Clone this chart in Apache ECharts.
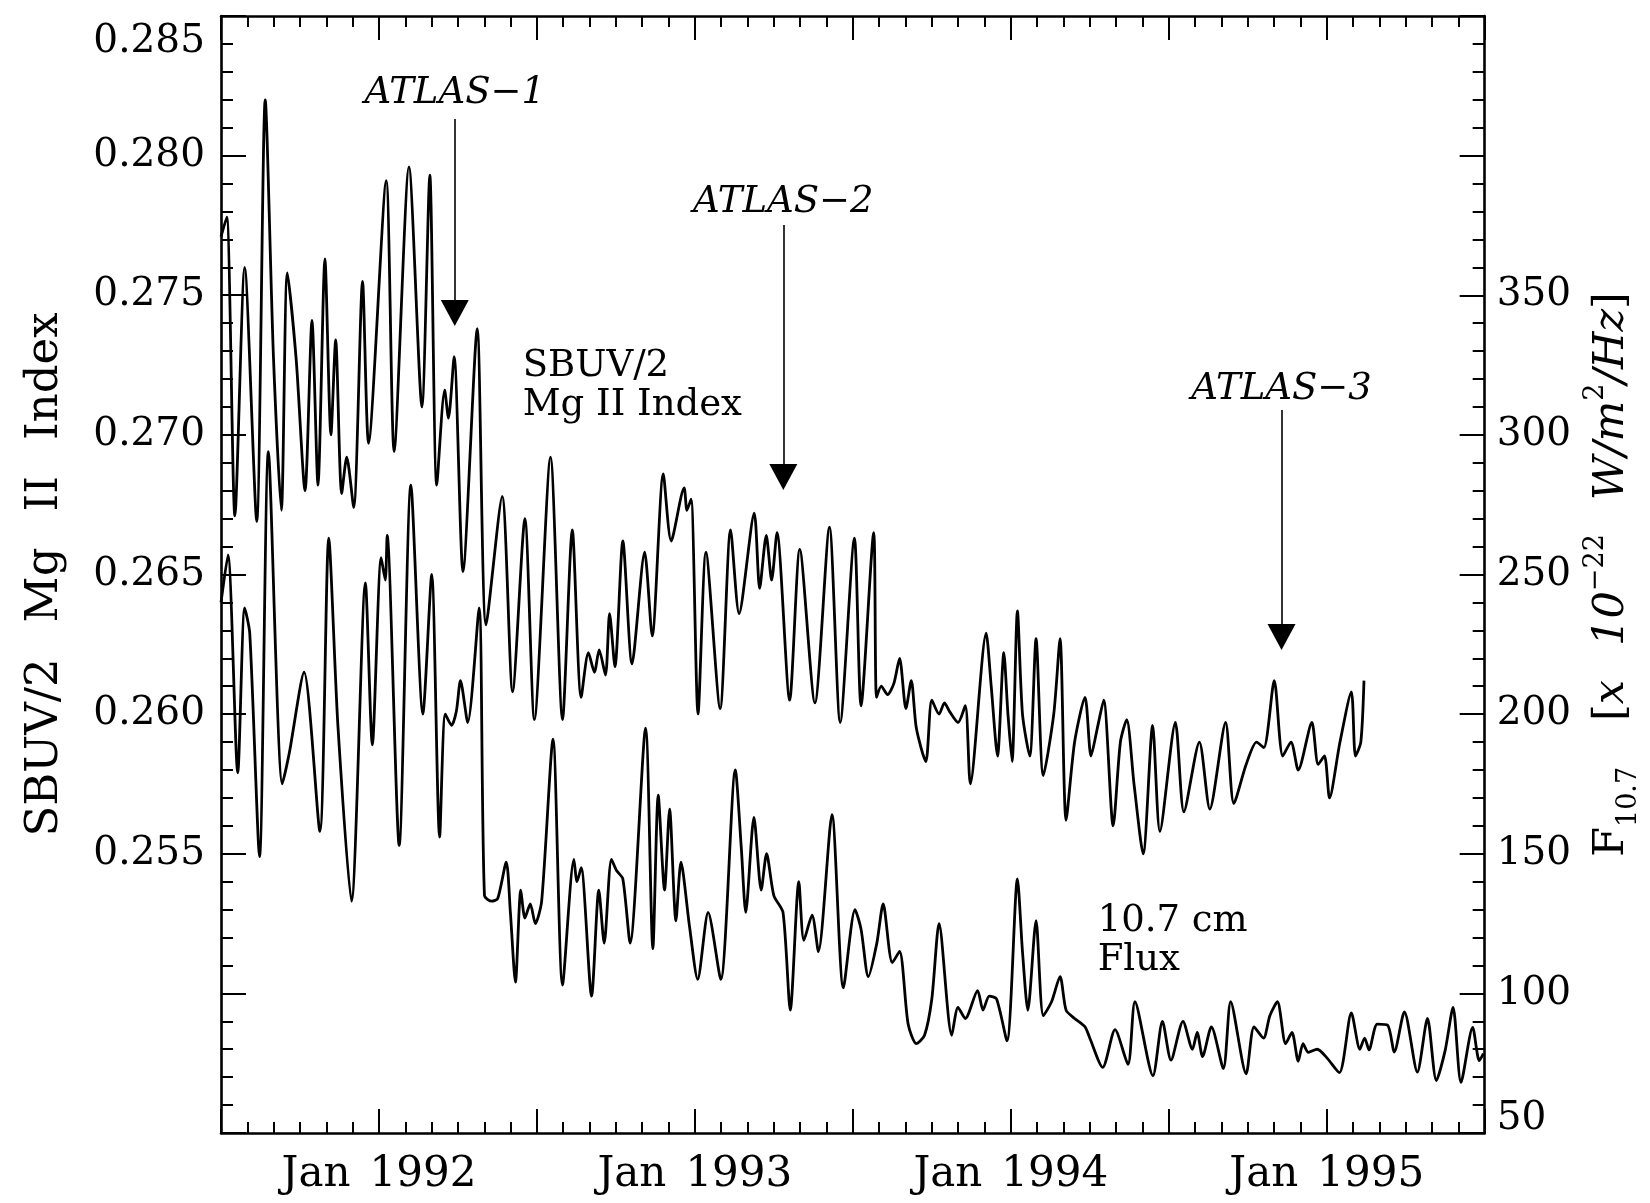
<!DOCTYPE html>
<html><head><meta charset="utf-8">
<script src="https://cdn.jsdelivr.net/npm/echarts@6/dist/echarts.min.js"></script>
<style>html,body{margin:0;padding:0;background:#fff}#c{width:1650px;height:1203px}</style>
</head><body><div id="c"></div>
<script>
// ---- data (x = decimal year, y = value) ----
const mgII = [
[1991.500,0.2771],[1991.518,0.2778],[1991.544,0.2671],[1991.575,0.2760],[1991.613,0.2669],[1991.640,0.2820],
[1991.666,0.2728],[1991.691,0.2673],[1991.710,0.2758],[1991.738,0.2727],[1991.766,0.2680],[1991.788,0.2741],
[1991.807,0.2682],[1991.829,0.2763],[1991.848,0.2700],[1991.863,0.2734],[1991.882,0.2679],[1991.898,0.2692],
[1991.920,0.2674],[1991.948,0.2755],[1991.967,0.2697],[1992.023,0.2791],[1992.048,0.2694],[1992.095,0.2796],
[1992.136,0.2710],[1992.161,0.2793],[1992.183,0.2682],[1992.208,0.2716],[1992.220,0.2706],[1992.238,0.2728],
[1992.266,0.2651],[1992.311,0.2738],[1992.339,0.2632],[1992.390,0.2678],[1992.423,0.2608],[1992.462,0.2670],
[1992.492,0.2598],[1992.543,0.2692],[1992.581,0.2598],[1992.612,0.2666],[1992.640,0.2606],[1992.663,0.2622],
[1992.682,0.2615],[1992.697,0.2623],[1992.717,0.2614],[1992.730,0.2636],[1992.747,0.2617],[1992.772,0.2662],
[1992.801,0.2618],[1992.841,0.2658],[1992.865,0.2628],[1992.900,0.2686],[1992.925,0.2662],[1992.966,0.2681],
[1992.975,0.2673],[1992.988,0.2677],[1993.010,0.2600],[1993.035,0.2658],[1993.080,0.2602],[1993.113,0.2666],
[1993.140,0.2636],[1993.188,0.2672],[1993.205,0.2645],[1993.226,0.2664],[1993.243,0.2648],[1993.260,0.2665],
[1993.300,0.2605],[1993.332,0.2659],[1993.380,0.2604],[1993.426,0.2667],[1993.460,0.2597],[1993.505,0.2663],
[1993.526,0.2603],[1993.566,0.2665],[1993.575,0.2606],[1993.590,0.2610],[1993.610,0.2607],[1993.630,0.2611],
[1993.648,0.2620],[1993.668,0.2602],[1993.685,0.2612],[1993.701,0.2595],[1993.731,0.2583],[1993.750,0.2605],
[1993.773,0.2600],[1993.790,0.2604],[1993.806,0.2601],[1993.833,0.2597],[1993.856,0.2603],[1993.872,0.2575],
[1993.922,0.2629],[1993.938,0.2610],[1993.958,0.2585],[1993.978,0.2622],[1993.991,0.2600],[1994.004,0.2583],
[1994.021,0.2637],[1994.037,0.2600],[1994.060,0.2585],[1994.080,0.2627],[1994.103,0.2578],[1994.136,0.2600],
[1994.156,0.2627],[1994.175,0.2562],[1994.202,0.2590],[1994.235,0.2606],[1994.254,0.2585],[1994.274,0.2595],
[1994.294,0.2605],[1994.324,0.2560],[1994.347,0.2590],[1994.367,0.2598],[1994.390,0.2575],[1994.419,0.2550],
[1994.449,0.2596],[1994.472,0.2558],[1994.521,0.2597],[1994.548,0.2565],[1994.597,0.2590],[1994.630,0.2566],
[1994.680,0.2597],[1994.706,0.2568],[1994.745,0.2582],[1994.778,0.2590],[1994.801,0.2588],[1994.834,0.2612],
[1994.861,0.2585],[1994.887,0.2590],[1994.910,0.2580],[1994.953,0.2597],[1994.973,0.2582],[1994.993,0.2585],
[1995.009,0.2570],[1995.042,0.2590],[1995.078,0.2608],[1995.091,0.2585],[1995.108,0.2590],[1995.118,0.2612]
];
const f107 = [
[1991.500,240],[1991.522,257],[1991.553,179],[1991.575,238],[1991.591,229],[1991.622,149],[1991.650,294],
[1991.694,175],[1991.716,186],[1991.763,215],[1991.813,158],[1991.841,263],[1991.870,196],[1991.913,133],
[1991.957,247],[1991.979,189],[1992.007,256],[1992.020,248],[1992.026,264],[1992.064,153],[1992.101,282],
[1992.139,200],[1992.167,250],[1992.192,156],[1992.210,200],[1992.230,196],[1992.245,201],[1992.258,212],
[1992.281,197],[1992.317,238],[1992.334,135],[1992.357,133],[1992.376,134],[1992.403,147],[1992.416,129],
[1992.432,104],[1992.449,137],[1992.462,127],[1992.479,132],[1992.495,125],[1992.515,133],[1992.551,191],
[1992.581,103],[1992.617,148],[1992.627,140],[1992.640,145],[1992.673,99],[1992.696,137],[1992.713,118],
[1992.736,148],[1992.752,144],[1992.772,141],[1992.795,118],[1992.844,195],[1992.867,116],[1992.884,171],
[1992.904,137],[1992.920,166],[1992.940,126],[1992.956,147],[1992.983,124],[1993.009,105],[1993.042,129],
[1993.082,105],[1993.128,180],[1993.147,152],[1993.161,129],[1993.187,163],[1993.210,137],[1993.227,150],
[1993.250,135],[1993.279,129],[1993.302,94],[1993.329,140],[1993.345,119],[1993.371,128],[1993.391,115],
[1993.434,164],[1993.470,102],[1993.507,130],[1993.526,123],[1993.549,106],[1993.576,118],[1993.596,132],
[1993.625,111],[1993.648,115],[1993.675,89],[1993.701,82],[1993.727,85],[1993.750,98],[1993.773,125],
[1993.813,85],[1993.833,95],[1993.856,91],[1993.895,101],[1993.912,94],[1993.932,99],[1993.955,98],
[1993.988,83],[1994.021,141],[1994.037,115],[1994.054,94],[1994.080,126],[1994.103,92],[1994.129,97],
[1994.156,106],[1994.175,94],[1994.202,91],[1994.235,88],[1994.250,84],[1994.291,73.5],[1994.330,87],
[1994.371,74.6],[1994.393,97],[1994.450,70.5],[1994.480,90],[1994.507,76.1],[1994.545,90],[1994.575,80],
[1994.590,86],[1994.607,77.4],[1994.635,88],[1994.673,73.1],[1994.696,97],[1994.745,71.2],[1994.770,88],
[1994.800,84],[1994.820,92],[1994.844,97],[1994.870,82],[1994.890,86],[1994.910,75.7],[1994.925,82],
[1994.942,78.9],[1994.970,80],[1995.000,77],[1995.040,71.6],[1995.078,93],[1995.105,80],[1995.120,84],
[1995.134,79.8],[1995.160,89],[1995.193,88.6],[1995.214,79],[1995.246,93.4],[1995.287,71.8],[1995.319,91],
[1995.347,68.8],[1995.375,79.6],[1995.400,95],[1995.425,68.1],[1995.462,87.8],[1995.483,75.9],[1995.496,78.4]
];
// ATLAS shuttle missions (mid-mission date, decimal year)
const atlasNames = ['ATLAS\u22121', 'ATLAS\u22122', 'ATLAS\u22123'];
const atlasDates = [1992.24, 1993.28, 1994.857];
// axis tick labels
const xLabelYears = [1992, 1993, 1994, 1995];
const leftLabelMin = 0.255;
const rightLabelMax = 350;

// ---- layout (not data) ----
const FONT = 'DejaVu Serif';
const atlasTextY = [0.28224, 0.27834, 0.27164];
const atlasTopY = [0.28131, 0.27752, 0.27089];
const atlasTipY = [0.27436, 0.26849, 0.26276];

const chart = echarts.init(document.getElementById('c'), null, {renderer: 'canvas'});
const black = '#000';
const tickStyle = {color: black, width: 2};
function xAx(pos, showLabel) {
  return {
    type: 'value', position: pos, min: 1991.5, max: 1995.5, interval: 0.5,
    axisLine: {show: true, onZero: false, lineStyle: {color: black, width: 2.6}},
    axisTick: {show: true, inside: true, length: 24, lineStyle: tickStyle},
    minorTick: {show: true, splitNumber: 6, length: 11, lineStyle: tickStyle},
    splitLine: {show: false}, minorSplitLine: {show: false},
    axisLabel: {
      show: showLabel, margin: 21, color: black,
      formatter: v => {
        const y = Math.round(v * 2) / 2;
        return xLabelYears.indexOf(y) >= 0 ? '{a|Jan}{s| }{a|' + y + '}' : '';
      },
      rich: {
        a: {fontFamily: FONT, fontSize: 42, color: black},
        s: {fontFamily: FONT, fontSize: 42, width: 19}
      }
    }
  };
}
const markPts = atlasNames.map((n, i) => ({
  coord: [atlasDates[i], atlasTextY[i]],
  label: {formatter: n}
}));
markPts.push({coord: [1992.455, 0.27177], label: {formatter: 'SBUV/2\nMg II Index', align: 'left', fontStyle: 'normal', fontSize: 37, lineHeight: 39}});
markPts.push({coord: [1994.275, 0.25188], label: {formatter: '10.7 cm\nFlux', align: 'left', fontStyle: 'normal', fontSize: 37, lineHeight: 39}});

const option = {
  animation: false,
  backgroundColor: '#fff',
  grid: {left: 221, right: 151, top: 16, bottom: 70, containLabel: false},
  xAxis: [xAx('bottom', true), xAx('top', false)],
  yAxis: [
    {
      type: 'value', position: 'left', min: 0.245, max: 0.285, interval: 0.005,
      axisLine: {show: true, onZero: false, lineStyle: {color: black, width: 2.6}},
      axisTick: {show: true, inside: true, length: 25, lineStyle: tickStyle},
      minorTick: {show: true, splitNumber: 5, length: 12, lineStyle: tickStyle},
      splitLine: {show: false}, minorSplitLine: {show: false},
      axisLabel: {
        margin: 16, fontFamily: FONT, fontSize: 39, color: black,
        formatter: v => {
          const r = Math.round(v * 1000) / 1000;
          if (r < leftLabelMin - 1e-9) return '';
          if (Math.abs(r - 0.285) < 1e-9) return '{t|' + r.toFixed(3) + '}';
          return r.toFixed(3);
        },
        rich: {t: {fontFamily: FONT, fontSize: 39, color: black, padding: [52, 0, 0, 0]}}
      },
      name: '{a|SBUV/2}{s| }{a|Mg}{s| }{a|II}{s| }{a|Index}',
      nameLocation: 'middle', nameGap: 150, nameRotate: 90,
      nameTextStyle: {
        fontFamily: FONT, fontSize: 45, color: black, lineHeight: 52,
        rich: {
          a: {fontFamily: FONT, fontSize: 45, color: black, lineHeight: 52},
          s: {fontFamily: FONT, fontSize: 45, lineHeight: 52, width: 36}
        }
      }
    },
    {
      type: 'value', position: 'right', min: 50, max: 450, interval: 50,
      axisLine: {show: true, onZero: false, lineStyle: {color: black, width: 2.6}},
      axisTick: {show: true, inside: true, length: 25, lineStyle: tickStyle},
      minorTick: {show: true, splitNumber: 5, length: 12, lineStyle: tickStyle},
      splitLine: {show: false}, minorSplitLine: {show: false},
      axisLabel: {
        margin: 12, fontFamily: FONT, fontSize: 39, color: black,
        formatter: v => {
          const r = Math.round(v);
          if (r > rightLabelMax) return '';
          if (r === 50) return '{b|50}';
          return String(r);
        },
        rich: {b: {fontFamily: FONT, fontSize: 39, color: black, padding: [0, 0, 28, 0]}}
      },
      name: '{n|F}{sub|10.7}{w| }{n|[}{i|x}{s| }{i|10}{sup|\u221222}{s| }{i|W/m}{sup|2}{i|/Hz}{n|]}',
      nameLocation: 'middle', nameGap: 92, nameRotate: 90,
      nameTextStyle: {
        fontFamily: FONT, fontSize: 43, color: black,
        rich: {
          n: {fontFamily: FONT, fontSize: 43, color: black, lineHeight: 60},
          i: {fontFamily: FONT, fontSize: 43, fontStyle: 'italic', color: black, lineHeight: 60},
          s: {fontFamily: FONT, fontSize: 43, lineHeight: 60, width: 34},
          w: {fontFamily: FONT, fontSize: 43, lineHeight: 60, width: 46},
          sub: {fontFamily: FONT, fontSize: 27, color: black, lineHeight: 26, verticalAlign: 'bottom'},
          sup: {fontFamily: FONT, fontSize: 27, color: black, lineHeight: 26, verticalAlign: 'top'}
        }
      }
    }
  ],
  series: [
    {
      name: 'SBUV/2 Mg II Index', type: 'line', xAxisIndex: 0, yAxisIndex: 0,
      data: mgII, showSymbol: false, symbol: 'none', smooth: 0.25,
      lineStyle: {color: black, width: 2.8}, z: 3, silent: true,
      markLine: {
        silent: true, animation: false, symbol: ['none', 'triangle'], symbolSize: [28, 26],
        lineStyle: {color: black, width: 1.6, type: 'solid'},
        label: {show: false},
        data: atlasDates.map((d, i) => [
          {coord: [d, atlasTopY[i]], symbol: 'none'},
          {coord: [d, atlasTipY[i]], symbol: 'triangle', symbolSize: [28, 26]}
        ])
      },
      markPoint: {
        silent: true, animation: false, symbol: 'rect', symbolSize: 1,
        itemStyle: {color: 'rgba(0,0,0,0)'},
        label: {show: true, position: 'inside', color: black, fontFamily: FONT, fontSize: 37, fontStyle: 'italic', align: 'center', verticalAlign: 'middle'},
        data: markPts
      }
    },
    {
      name: 'F10.7', type: 'line', xAxisIndex: 0, yAxisIndex: 1,
      data: f107, showSymbol: false, symbol: 'none', smooth: 0.25,
      lineStyle: {color: black, width: 2.8}, z: 3, silent: true
    }
  ]
};
chart.setOption(option);
</script>
</body></html>
